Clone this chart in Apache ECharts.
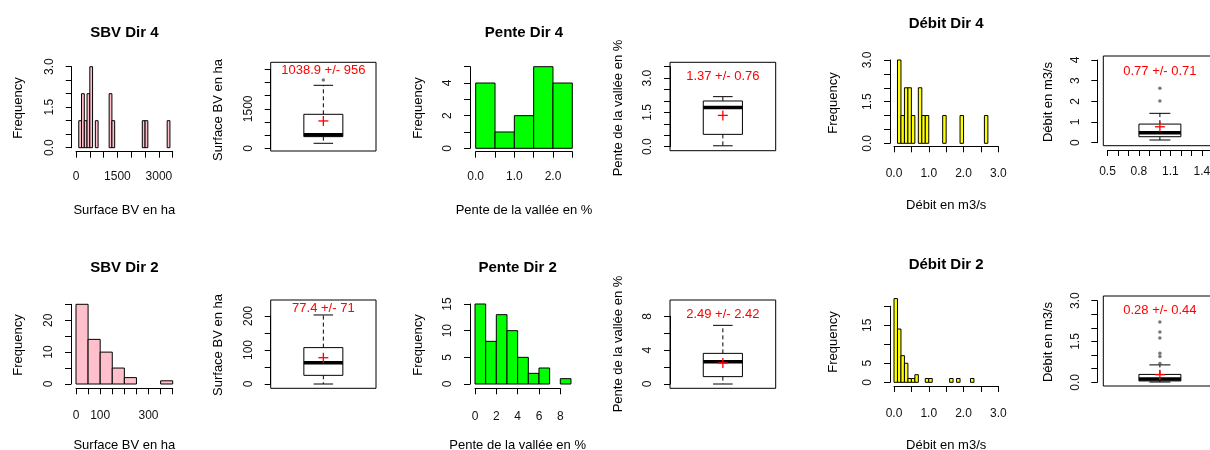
<!DOCTYPE html>
<html>
<head>
<meta charset="UTF-8">
<title>Histogrammes et boxplots</title>
<script src="https://cdn.jsdelivr.net/npm/echarts@6/dist/echarts.min.js"></script>
<style>
  html, body { margin: 0; padding: 0; background: #fff; }
  #main { width: 1210px; height: 450px; }
</style>
</head>
<body>
<div id="main"></div>
<script>
// ---- valeurs ----
// histogrammes : debut de classe, effectif, largeur de classe
var sbv4Width = 100;
var sbv4Starts = [100, 200, 300, 400, 500, 700, 1200, 1300, 2400, 2500, 3300];
var sbv4Counts = [1, 2, 1, 2, 3, 1, 2, 1, 1, 1, 1];
var pente4Width = 0.5;
var pente4Starts = [0, 0.5, 1, 1.5, 2];
var pente4Counts = [4, 1, 2, 5, 4];
var debit4Width = 0.1;
var debit4Starts = [0.1, 0.2, 0.3, 0.4, 0.5, 0.7, 0.8, 0.9, 1.4, 1.9, 2.6];
var debit4Counts = [3, 1, 2, 2, 1, 2, 1, 1, 1, 1, 1];

var sbv2Width = 50;
var sbv2Starts = [0, 50, 100, 150, 200, 350];
var sbv2Counts = [25, 14, 10, 5, 2, 1];
var pente2Width = 1;
var pente2Starts = [0, 1, 2, 3, 4, 5, 6, 8];
var pente2Counts = [15, 8, 13, 10, 5, 2, 3, 1];
var debit2Width = 0.1;
var debit2Starts = [0, 0.1, 0.2, 0.3, 0.4, 0.5, 0.6, 0.9, 1.0, 1.6, 1.8, 2.2];
var debit2Counts = [22, 14, 7, 5, 1, 1, 2, 1, 1, 1, 1, 1];

// boxplots : [moustache basse, Q1, mediane, Q3, moustache haute]
var sbv4Box = [190, 443, 519, 1291, 2392];
var sbv4Out = [2595];
var sbv4Mean = 1038.9, sbv4Sd = 956;
var pente4Box = [0.04, 0.54, 1.72, 2.0, 2.19];
var pente4Out = [];
var pente4Mean = 1.37, pente4Sd = 0.76;
var debit4Box = [0.13, 0.29, 0.48, 0.9, 1.42];
var debit4Out = [2.02, 2.63];
var debit4Mean = 0.77, debit4Sd = 0.71;

var sbv2Box = [0, 25.5, 62.7, 107, 203];
var sbv2Out = [];
var sbv2Mean = 77.4, sbv2Sd = 71;
var pente2Box = [0, 0.87, 2.64, 3.62, 6.93];
var pente2Out = [8.6];
var pente2Mean = 2.49, pente2Sd = 2.42;
var debit2Box = [0.01, 0.05, 0.12, 0.29, 0.64];
var debit2Out = [0.69, 0.95, 1.07, 1.63, 1.85, 2.22];
var debit2Mean = 0.28, debit2Sd = 0.44;

// graduations affichees
var sbv4XLabels = [0, 1500, 3000], sbv4YLabels = [0, 1.5, 3];
var pente4XLabels = [0, 1, 2], pente4YLabels = [0, 2, 4];
var debit4XLabels = [0, 1, 2, 3], debit4YLabels = [0, 1.5, 3];
var sbv2XLabels = [0, 100, 300], sbv2YLabels = [0, 10, 20];
var pente2XLabels = [0, 2, 4, 6, 8], pente2YLabels = [0, 5, 10, 15];
var debit2XLabels = [0, 1, 2, 3], debit2YLabels = [0, 5, 15];
var sbv4BoxLabels = [0, 1500], pente4BoxLabels = [0, 1.5, 3], debit4BoxLabels = [0, 1, 2, 3, 4];
var debit4BoxXLabels = [0.5, 0.8, 1.1, 1.4];
var sbv2BoxLabels = [0, 100, 200], pente2BoxLabels = [0, 4, 8], debit2BoxLabels = [0, 1.5, 3];

var FONT = '"Liberation Sans", Arial, sans-serif';
var grids = [], xAxes = [], yAxes = [], series = [], graphics = [];

function near(list, v) {
  for (var i = 0; i < list.length; i++) {
    if (Math.abs(list[i] - v) < 1e-6) return true;
  }
  return false;
}

function valueAxis(gi, min, max, step, off, labels, dec, rot, margin) {
  return {
    type: 'value', gridIndex: gi, min: min, max: max, interval: step, offset: off,
    axisLine: { show: true, onZero: false, lineStyle: { color: '#000', width: 1 } },
    axisTick: { show: true, length: 6, lineStyle: { color: '#000', width: 1 } },
    axisLabel: {
      rotate: rot, margin: margin, color: '#111', fontSize: 12, fontFamily: FONT,
      showMinLabel: true, showMaxLabel: true, hideOverlap: false,
      formatter: function (v) { return near(labels, v) ? v.toFixed(dec) : ''; }
    },
    splitLine: { show: false }
  };
}

function hiddenAxis(gi, min, max) {
  return { type: 'value', gridIndex: gi, show: false, min: min, max: max, splitLine: { show: false } };
}

function addGrid(g) {
  g.containLabel = false;
  g.outerBoundsMode = 'none';
  grids.push(g);
  return grids.length - 1;
}

function addText(str, x, y, size, bold, rot) {
  graphics.push({
    type: 'text', x: x, y: y, rotation: rot ? Math.PI / 2 : 0,
    style: {
      text: str, fill: '#000', align: 'center', verticalAlign: 'middle',
      font: (bold ? 'bold ' : '') + size + 'px ' + FONT
    }
  });
}

function addHist(h) {
  var gi = addGrid({ left: h.x0, top: h.y0, width: h.x1 - h.x0, height: h.y1 - h.y0 });
  xAxes.push(valueAxis(gi, 0, h.xMax, h.xStep, h.xOff, h.xLabels, h.xDec, 0, h.xMargin));
  yAxes.push(valueAxis(gi, 0, h.yMax, h.yStep, h.yOff, h.yLabels, h.yDec, 90, 16));
  var data = h.starts.map(function (s, i) { return [s, s + h.width, h.counts[i]]; });
  series.push({
    type: 'custom', xAxisIndex: gi, yAxisIndex: gi, data: data, silent: true,
    renderItem: function (params, api) {
      var a = api.coord([api.value(0), api.value(2)]);
      var b = api.coord([api.value(1), 0]);
      return {
        type: 'rect',
        shape: { x: a[0], y: a[1], width: b[0] - a[0], height: b[1] - a[1] },
        style: { fill: h.color, stroke: '#000', lineWidth: 1 }
      };
    }
  });
  addText(h.title, (h.x0 + h.x1) / 2, h.titleY, 15, true);
  addText(h.xName, (h.x0 + h.x1) / 2, h.xNameY, 13);
  addText('Frequency', h.yNameX, h.yNameY, 13, false, true);
}

function addBox(b) {
  // cadre du boxplot
  var fi = addGrid({
    left: b.fx0, top: b.fy0, width: b.fx1 - b.fx0, height: b.fy1 - b.fy0,
    show: true, borderColor: '#000', borderWidth: 1, backgroundColor: 'rgba(0,0,0,0)'
  });
  xAxes.push(hiddenAxis(fi, 0, 1));
  yAxes.push(hiddenAxis(fi, 0, 1));
  // zone des donnees : x de 0.5 a 1.5 avec la marge de 4 % de R
  var per = (b.fx1 - b.fx0) / 1.08;
  var gx0 = b.fx0 + 0.04 * per, gx1 = b.fx1 - 0.04 * per;
  var gi = addGrid({ left: gx0, width: gx1 - gx0, top: b.yTopPx, height: b.yZeroPx - b.yTopPx });
  xAxes.push(b.xLabels ? valueAxis(gi, 0.5, 1.5, 0.1, b.xOff, b.xLabels, 1, 0, 16) : hiddenAxis(gi, 0.5, 1.5));
  yAxes.push(valueAxis(gi, 0, b.yMax, b.yStep, gx0 - b.axisX, b.yLabels, b.yDec, 90, 16));
  var s = b.stats;
  var label = b.mean + ' +/- ' + b.sd;
  series.push({
    type: 'custom', xAxisIndex: gi, yAxisIndex: gi, silent: true,
    data: [[1, s[0], s[1], s[2], s[3], s[4], b.mean]],
    renderItem: function (params, api) {
      var x = api.value(0);
      var lo = api.coord([x, api.value(1)]);
      var q1 = api.coord([x, api.value(2)]);
      var md = api.coord([x, api.value(3)]);
      var q3 = api.coord([x, api.value(4)]);
      var hi = api.coord([x, api.value(5)]);
      var mn = api.coord([x, api.value(6)]);
      var bl = api.coord([x - 0.2, 0])[0], br = api.coord([x + 0.2, 0])[0];
      var cl = api.coord([x - 0.1, 0])[0], cr = api.coord([x + 0.1, 0])[0];
      var cx = lo[0];
      var thin = { stroke: '#000', lineWidth: 1 };
      var dash = { stroke: '#000', lineWidth: 1, lineDash: [4, 3] };
      var red = { stroke: '#ff0000', lineWidth: 1.3 };
      return {
        type: 'group',
        children: [
          { type: 'line', shape: { x1: cx, y1: q1[1], x2: cx, y2: lo[1] }, style: dash },
          { type: 'line', shape: { x1: cx, y1: q3[1], x2: cx, y2: hi[1] }, style: dash },
          { type: 'line', shape: { x1: cl, y1: lo[1], x2: cr, y2: lo[1] }, style: thin },
          { type: 'line', shape: { x1: cl, y1: hi[1], x2: cr, y2: hi[1] }, style: thin },
          { type: 'rect', shape: { x: bl, y: q3[1], width: br - bl, height: q1[1] - q3[1] },
            style: { fill: '#fff', stroke: '#000', lineWidth: 1 } },
          { type: 'line', shape: { x1: bl, y1: md[1], x2: br, y2: md[1] }, style: { stroke: '#000', lineWidth: 3.5 } },
          { type: 'line', shape: { x1: mn[0] - 5, y1: mn[1], x2: mn[0] + 5, y2: mn[1] }, style: red },
          { type: 'line', shape: { x1: mn[0], y1: mn[1] - 5, x2: mn[0], y2: mn[1] + 5 }, style: red },
          { type: 'text', x: cx, y: b.textY,
            style: { text: label, fill: '#ff0000', align: 'center', verticalAlign: 'middle', font: '13px ' + FONT } }
        ]
      };
    }
  });
  if (b.out.length) {
    series.push({
      type: 'scatter', xAxisIndex: gi, yAxisIndex: gi, silent: true,
      symbol: 'circle', symbolSize: 3.5, itemStyle: { color: '#555' },
      data: b.out.map(function (v) { return [1, v]; })
    });
  }
  addText(b.yName, b.yNameX, b.yNameY, 13, false, true);
}

// ---- rangee du haut : Dir 4 ----
addHist({ title: 'SBV Dir 4', xName: 'Surface BV en ha', color: '#ffc0cb',
  starts: sbv4Starts, counts: sbv4Counts, width: sbv4Width,
  x0: 76, x1: 172.7, y0: 66.7, y1: 147.7, xOff: 4, yOff: 4.3, xMargin: 19,
  xMax: 3500, xStep: 500, xLabels: sbv4XLabels, xDec: 0,
  yMax: 3, yStep: 0.5, yLabels: sbv4YLabels, yDec: 1,
  titleY: 33, xNameY: 210, yNameX: 18, yNameY: 108 });
addBox({ stats: sbv4Box, out: sbv4Out, mean: sbv4Mean, sd: sbv4Sd, yName: 'Surface BV en ha',
  fx0: 270.7, fx1: 376, fy0: 62.3, fy1: 151, yZeroPx: 148.3, yTopPx: 69.3, axisX: 270.7,
  yMax: 3000, yStep: 500, yLabels: sbv4BoxLabels, yDec: 0, textY: 70.7, yNameX: 218, yNameY: 110 });
addHist({ title: 'Pente Dir 4', xName: 'Pente de la vall\u00e9e en %', color: '#00ff00',
  starts: pente4Starts, counts: pente4Counts, width: pente4Width,
  x0: 475.7, x1: 572.3, y0: 66.7, y1: 148.3, xOff: 3.4, yOff: 5.7, xMargin: 19,
  xMax: 2.5, xStep: 0.5, xLabels: pente4XLabels, xDec: 1,
  yMax: 5, yStep: 1, yLabels: pente4YLabels, yDec: 0,
  titleY: 33, xNameY: 210, yNameX: 418, yNameY: 108 });
addBox({ stats: pente4Box, out: pente4Out, mean: pente4Mean, sd: pente4Sd, yName: 'Pente de la vall\u00e9e en %',
  fx0: 670, fx1: 775.7, fy0: 62.3, fy1: 150.7, yZeroPx: 146.7, yTopPx: 66.7, axisX: 670,
  yMax: 3.5, yStep: 0.5, yLabels: pente4BoxLabels, yDec: 1, textY: 76, yNameX: 618, yNameY: 108 });
addHist({ title: 'D\u00e9bit Dir 4', xName: 'D\u00e9bit en m3/s', color: '#ffff00',
  starts: debit4Starts, counts: debit4Counts, width: debit4Width,
  x0: 894, x1: 998.3, y0: 60, y1: 143.3, xOff: 3, yOff: 4, xMargin: 21,
  xMax: 3, xStep: 0.5, xLabels: debit4XLabels, xDec: 1,
  yMax: 3, yStep: 0.5, yLabels: debit4YLabels, yDec: 1,
  titleY: 24, xNameY: 205, yNameX: 833, yNameY: 103 });
addBox({ stats: debit4Box, out: debit4Out, mean: debit4Mean, sd: debit4Sd, yName: 'D\u00e9bit en m3/s',
  fx0: 1103.3, fx1: 1216.5, fy0: 56, fy1: 145.7, yZeroPx: 142.7, yTopPx: 60, axisX: 1097.3,
  xLabels: debit4BoxXLabels, xOff: 7.3,
  yMax: 4, yStep: 1, yLabels: debit4BoxLabels, yDec: 0, textY: 71, yNameX: 1048, yNameY: 102 });

// ---- rangee du bas : Dir 2 ----
addHist({ title: 'SBV Dir 2', xName: 'Surface BV en ha', color: '#ffc0cb',
  starts: sbv2Starts, counts: sbv2Counts, width: sbv2Width,
  x0: 76, x1: 172.7, y0: 304.3, y1: 384, xOff: 4.3, yOff: 5, xMargin: 21,
  xMax: 400, xStep: 50, xLabels: sbv2XLabels, xDec: 0,
  yMax: 25, yStep: 5, yLabels: sbv2YLabels, yDec: 0,
  titleY: 268, xNameY: 445, yNameX: 18, yNameY: 345 });
addBox({ stats: sbv2Box, out: sbv2Out, mean: sbv2Mean, sd: sbv2Sd, yName: 'Surface BV en ha',
  fx0: 270.7, fx1: 376, fy0: 300, fy1: 388.3, yZeroPx: 384, yTopPx: 316, axisX: 270.7,
  yMax: 200, yStep: 50, yLabels: sbv2BoxLabels, yDec: 0, textY: 308.3, yNameX: 218, yNameY: 345 });
addHist({ title: 'Pente Dir 2', xName: 'Pente de la vall\u00e9e en %', color: '#00ff00',
  starts: pente2Starts, counts: pente2Counts, width: pente2Width,
  x0: 475, x1: 560.3, y0: 304, y1: 384, xOff: 4.3, yOff: 5, xMargin: 22,
  xMax: 8, xStep: 2, xLabels: pente2XLabels, xDec: 0,
  yMax: 15, yStep: 5, yLabels: pente2YLabels, yDec: 0,
  titleY: 268, xNameY: 445, yNameX: 418, yNameY: 345 });
addBox({ stats: pente2Box, out: pente2Out, mean: pente2Mean, sd: pente2Sd, yName: 'Pente de la vall\u00e9e en %',
  fx0: 670, fx1: 775.7, fy0: 300, fy1: 388.3, yZeroPx: 384, yTopPx: 316.3, axisX: 670,
  yMax: 8, yStep: 2, yLabels: pente2BoxLabels, yDec: 0, textY: 314.3, yNameX: 618, yNameY: 344 });
addHist({ title: 'D\u00e9bit Dir 2', xName: 'D\u00e9bit en m3/s', color: '#ffff00',
  starts: debit2Starts, counts: debit2Counts, width: debit2Width,
  x0: 894, x1: 998.3, y0: 306.2, y1: 382.3, xOff: 3.7, yOff: 4, xMargin: 22,
  xMax: 3, xStep: 0.5, xLabels: debit2XLabels, xDec: 1,
  yMax: 20, yStep: 5, yLabels: debit2YLabels, yDec: 0,
  titleY: 265, xNameY: 445, yNameX: 833, yNameY: 342 });
addBox({ stats: debit2Box, out: debit2Out, mean: debit2Mean, sd: debit2Sd, yName: 'D\u00e9bit en m3/s',
  fx0: 1103.3, fx1: 1216.5, fy0: 296, fy1: 386, yZeroPx: 382.3, yTopPx: 300.7, axisX: 1097.3,
  yMax: 3, yStep: 0.5, yLabels: debit2BoxLabels, yDec: 1, textY: 310, yNameX: 1048, yNameY: 342 });

var myChart = echarts.init(document.getElementById('main'), null, { renderer: 'canvas' });
myChart.setOption({
  animation: false,
  backgroundColor: '#fff',
  grid: grids,
  xAxis: xAxes,
  yAxis: yAxes,
  series: series,
  graphic: graphics
});
</script>
</body>
</html>
